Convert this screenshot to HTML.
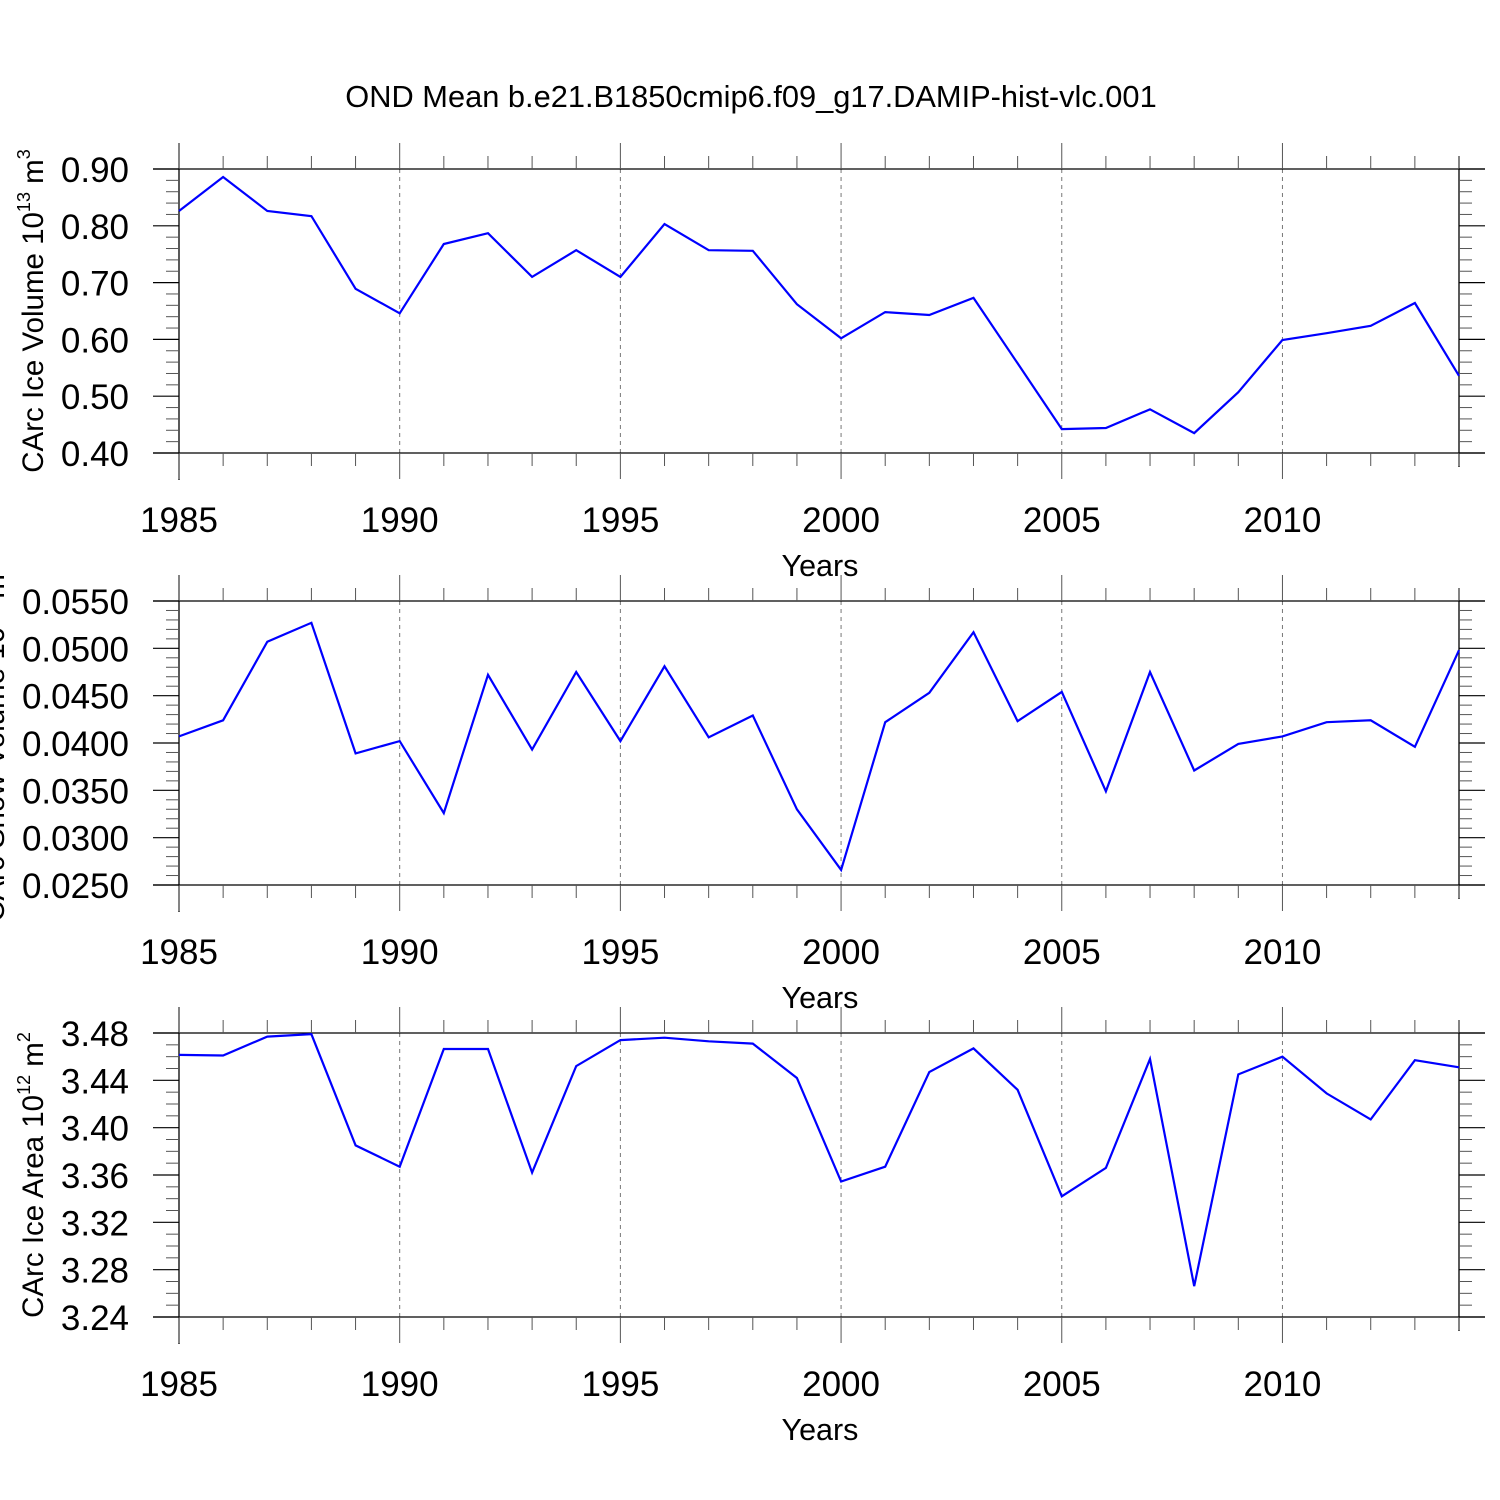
<!DOCTYPE html>
<html><head><meta charset="utf-8"><style>
html,body{margin:0;padding:0;background:#fff}
svg{display:block;font-family:"Liberation Sans",sans-serif}
</style></head><body>
<svg id="chart" width="1500" height="1500" viewBox="0 0 1500 1500" xmlns="http://www.w3.org/2000/svg">
<rect width="1500" height="1500" fill="#fff"/>
<text x="751" y="107" font-size="30.8" text-anchor="middle">OND Mean b.e21.B1850cmip6.f09_g17.DAMIP-hist-vlc.001</text>
</svg>
<script>
const years = [1985,1986,1987,1988,1989,1990,1991,1992,1993,1994,1995,1996,1997,1998,1999,2000,2001,2002,2003,2004,2005,2006,2007,2008,2009,2010,2011,2012,2013,2014];
const iceVolume = [0.826,0.886,0.826,0.817,0.689,0.646,0.768,0.787,0.710,0.757,0.710,0.803,0.757,0.756,0.662,0.602,0.648,0.643,0.673,0.558,0.442,0.444,0.477,0.435,0.507,0.599,0.611,0.624,0.664,0.536];
const snowVolume = [0.0407,0.0424,0.0507,0.0527,0.0389,0.0402,0.0326,0.0472,0.0393,0.0475,0.0402,0.0481,0.0406,0.0429,0.0330,0.0266,0.0422,0.0453,0.0517,0.0423,0.0454,0.0349,0.0475,0.0371,0.0399,0.0407,0.0422,0.0424,0.0396,0.0498];
const iceArea = [3.4615,3.461,3.477,3.479,3.385,3.367,3.4665,3.4665,3.362,3.452,3.474,3.476,3.473,3.471,3.442,3.3545,3.367,3.447,3.467,3.432,3.342,3.366,3.458,3.266,3.445,3.460,3.429,3.407,3.457,3.451];
const xTickLabels = ["1985","1990","1995","2000","2005","2010"];
const volTicks = ["0.40","0.50","0.60","0.70","0.80","0.90"];
const snowTicks = ["0.0250","0.0300","0.0350","0.0400","0.0450","0.0500","0.0550"];
const areaTicks = ["3.24","3.28","3.32","3.36","3.40","3.44","3.48"];

const NS="http://www.w3.org/2000/svg";
const svg=document.getElementById('chart');
function mk(tag,attrs,parent){const e=document.createElementNS(NS,tag);for(const k in attrs)e.setAttribute(k,attrs[k]);(parent||svg).appendChild(e);return e;}
const X0=179,X1=1459;
function xs(yr){return X0+(yr-1985)/(2014-1985)*(X1-X0);}

function panel(top,ticks,minorPer,values,name,titleParts,titleX){
  const bot=top+284;
  const ymin=parseFloat(ticks[0]),ymax=parseFloat(ticks[ticks.length-1]);
  const ys=v=>bot-(v-ymin)/(ymax-ymin)*(bot-top);
  const g=mk('g',{});
  
  
  for(let yr=1990;yr<=2010;yr+=5){
    const l=mk('line',{x1:xs(yr),x2:xs(yr),y1:top,y2:bot,stroke:'#777','stroke-width':1,'stroke-dasharray':'4,4'},g);
    
    
  }
  mk('line',{x1:153,x2:1485,y1:top,y2:top,stroke:'#000','stroke-width':1.3},g);
  mk('line',{x1:153,x2:1485,y1:bot,y2:bot,stroke:'#000','stroke-width':1.3},g);
  mk('line',{x1:X0,x2:X0,y1:top-26,y2:bot+27,stroke:'#000','stroke-width':1.3},g);
  mk('line',{x1:X1,x2:X1,y1:top-13,y2:bot+14,stroke:'#000','stroke-width':1.3},g);
  for(let yr=1985;yr<=2014;yr++){
    const major=(yr%5===0);
    const len=major?26:13;
    mk('line',{x1:xs(yr),x2:xs(yr),y1:top-len,y2:top,stroke:'#555','stroke-width':1},g);
    mk('line',{x1:xs(yr),x2:xs(yr),y1:bot,y2:bot+len,stroke:'#555','stroke-width':1},g);
  }
  xTickLabels.forEach(t=>{
    const tx=mk('text',{x:xs(+t),y:bot+79,'font-size':35,'text-anchor':'middle'},g);
    tx.textContent=t;
    
    
  });
  const yt=mk('text',{x:820,y:bot+123,'font-size':30.5,'text-anchor':'middle'},g);
  yt.textContent='Years';
  
  
  const n=ticks.length-1;
  for(let i=0;i<n*minorPer;i++){
    const v=ymin+(ymax-ymin)*i/(n*minorPer);
    const y=ys(v);
    if(i%minorPer===0) continue;
    mk('line',{x1:166,x2:X0,y1:y,y2:y,stroke:'#555','stroke-width':1},g);
    mk('line',{x1:X1,x2:1472,y1:y,y2:y,stroke:'#555','stroke-width':1},g);
  }
  ticks.forEach(t=>{
    const y=ys(parseFloat(t));
    mk('line',{x1:153,x2:X0,y1:y,y2:y,stroke:'#000','stroke-width':1.2},g);
    mk('line',{x1:X1,x2:1485,y1:y,y2:y,stroke:'#000','stroke-width':1.2},g);
    const tx=mk('text',{x:129,y:y+13,'font-size':35,'text-anchor':'end'},g);
    tx.textContent=t;
    
    
  });
  const cy=(top+bot)/2;
  const tt=mk('text',{x:titleX,y:cy,'font-size':29.5,'text-anchor':'middle',transform:`rotate(-90 ${titleX} ${cy})`},g);
  
  
  const a=document.createElementNS(NS,'tspan');a.textContent=titleParts[0];tt.appendChild(a);
  const s1=document.createElementNS(NS,'tspan');s1.setAttribute('dy','-13');s1.setAttribute('font-size','18');s1.textContent=titleParts[1];tt.appendChild(s1);
  const b=document.createElementNS(NS,'tspan');b.setAttribute('dy','13');b.textContent=titleParts[2];tt.appendChild(b);
  const s2=document.createElementNS(NS,'tspan');s2.setAttribute('dy','-13');s2.setAttribute('font-size','18');s2.textContent=titleParts[3];tt.appendChild(s2);
  const pts=values.map((v,i)=>xs(years[i]).toFixed(1)+','+ys(v).toFixed(1)).join(' ');
  const pl=mk('polyline',{points:pts,fill:'none',stroke:'#0000ff','stroke-width':2.2,'stroke-linejoin':'miter'},g);
  
  
}
panel(169,volTicks,5,iceVolume,'ice-volume',['CArc Ice Volume 10','13',' m','3'],43);
panel(601,snowTicks,5,snowVolume,'snow-volume',['CArc Snow Volume 10','13',' m','3'],4);
panel(1033,areaTicks,4,iceArea,'ice-area',['CArc Ice Area 10','12',' m','2'],43);
</script>
</body></html>
